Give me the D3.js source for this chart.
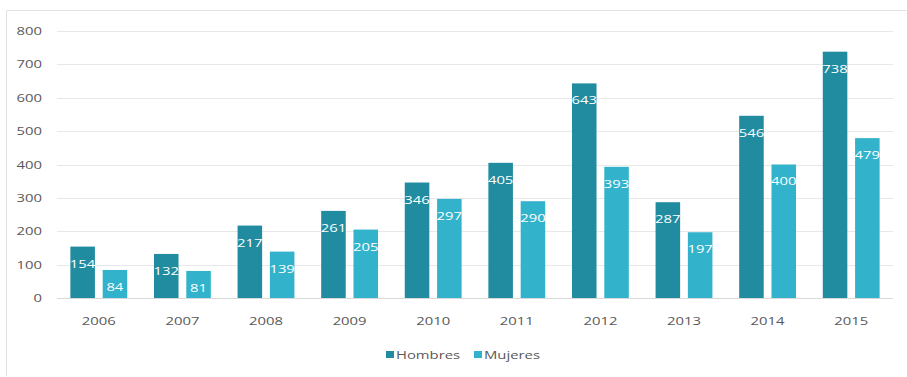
<!DOCTYPE html>
<html>
<head>
<meta charset="utf-8">
<script src="https://cdn.jsdelivr.net/npm/d3@7"></script>
<style>
    body { margin: 0; background: #fff; }
    svg { display: block; }
    /* the source picture is stretched sideways, so the text is too */
    .wide { transform-box: fill-box; transform: scaleX(1.35); }
    .wide-mid { transform-origin: center; }
    .wide-end { transform-origin: right; }
    .wide-start { transform-origin: left; }
</style>
</head>
<body>
<div id="chart"></div>
<script>
// data
const years = ["2006", "2007", "2008", "2009", "2010", "2011", "2012", "2013", "2014", "2015"];
const hombres = [154, 132, 217, 261, 346, 405, 643, 287, 546, 738];
const mujeres = [84, 81, 139, 205, 297, 290, 393, 197, 400, 479];
const seriesNames = ["Hombres", "Mujeres"];
const yTicks = [0, 100, 200, 300, 400, 500, 600, 700, 800];

const width = 907, height = 377;
const margin = { top: 31, right: 14, bottom: 79, left: 57 };
const colors = ["#218ba0", "#33b3cb"];

const svg = d3.select("#chart").append("svg")
    .attr("width", width)
    .attr("height", height)
    .attr("font-family", "'Open Sans', sans-serif");

// outer frame (left + top edges visible)
svg.append("path")
    .attr("d", "M6.5," + (height - 1) + "V10.5H" + width)
    .attr("fill", "none")
    .attr("stroke", "#e3e3e3");

const x = d3.scaleBand()
    .domain(years)
    .range([margin.left, width - margin.right])
    .paddingInner(0.32)
    .paddingOuter(0.16);

const x1 = d3.scaleBand()
    .domain(seriesNames)
    .range([0, x.bandwidth()])
    .paddingInner(0.24);

const y = d3.scaleLinear()
    .domain([0, 800])
    .range([height - margin.bottom, margin.top]);

// gridlines
svg.append("g")
    .selectAll("line")
    .data(yTicks)
    .enter().append("line")
    .attr("x1", margin.left)
    .attr("x2", width - margin.right)
    .attr("y1", d => Math.round(y(d)) + 0.5)
    .attr("y2", d => Math.round(y(d)) + 0.5)
    .attr("stroke", d => d === 0 ? "#d9d9d9" : "#e8e8e8");

// y axis labels
const yAxis = svg.append("g")
    .attr("transform", "translate(" + (margin.left - 15) + ",0)")
    .call(d3.axisLeft(y).tickValues(yTicks).tickSize(0).tickPadding(0));
yAxis.select(".domain").remove();
yAxis.selectAll("text")
    .attr("class", "wide wide-end")
    .attr("font-size", 11)
    .attr("font-family", "'Open Sans', sans-serif")
    .attr("fill", "#595959");

// x axis labels
const xAxis = svg.append("g")
    .attr("transform", "translate(0," + (height - margin.bottom) + ")")
    .call(d3.axisBottom(x).tickSize(0).tickPadding(19));
xAxis.select(".domain").remove();
xAxis.selectAll("text")
    .attr("class", "wide wide-mid")
    .attr("font-size", 11)
    .attr("font-family", "'Open Sans', sans-serif")
    .attr("fill", "#595959");

const rows = years.map((yr, i) => ({
    year: yr,
    values: [
        { key: "Hombres", value: hombres[i] },
        { key: "Mujeres", value: mujeres[i] }
    ]
}));

const groups = svg.append("g")
    .selectAll("g")
    .data(rows)
    .enter().append("g")
    .attr("transform", d => "translate(" + x(d.year) + ",0)");

groups.selectAll("rect")
    .data(d => d.values)
    .enter().append("rect")
    .attr("x", d => x1(d.key))
    .attr("width", x1.bandwidth())
    .attr("y", d => y(d.value))
    .attr("height", d => y(0) - y(d.value))
    .attr("fill", (d, i) => colors[i]);

// value labels inside the top of each bar
groups.selectAll("text.val")
    .data(d => d.values)
    .enter().append("text")
    .attr("class", "val wide wide-mid")
    .attr("x", d => x1(d.key) + x1.bandwidth() / 2)
    .attr("y", d => y(d.value) + 21)
    .attr("text-anchor", "middle")
    .attr("font-size", 11)
    .attr("fill", "#ffffff")
    .text(d => d.value);

// legend
const legend = svg.append("g")
    .attr("transform", "translate(386,355)");
const legendX = [0, 88];
seriesNames.forEach((name, i) => {
    const item = legend.append("g").attr("transform", "translate(" + legendX[i] + ",0)");
    item.append("rect")
        .attr("x", 0).attr("y", -4)
        .attr("width", 8).attr("height", 7)
        .attr("fill", colors[i]);
    item.append("text")
        .attr("class", "wide wide-start")
        .attr("x", 10).attr("y", 4)
        .attr("font-size", 11)
        .attr("fill", "#595959")
        .text(name);
});
</script>
</body>
</html>
